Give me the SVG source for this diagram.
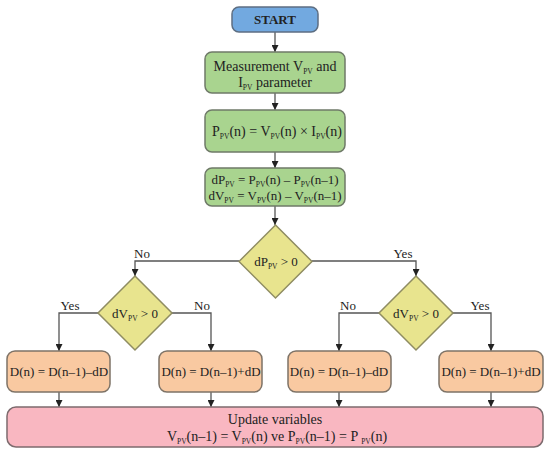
<svg xmlns="http://www.w3.org/2000/svg" width="550" height="454" viewBox="0 0 550 454">
<defs>
<marker id="arr" viewBox="0 0 10 10" refX="10" refY="5" markerWidth="7" markerHeight="7" markerUnits="userSpaceOnUse" orient="auto">
<path d="M0,0 L10,5 L0,10 z" fill="#222"/>
</marker>
<style>
text{font-family:"Liberation Serif","Times New Roman",serif;font-size:14px;fill:#222;text-anchor:middle}
.b{font-weight:bold;font-size:13px}
.m{font-size:13px}
.s{font-size:7.5px}
.lbl{font-size:13px}
.start{fill:#72a9e0;stroke:#5d6e82;stroke-width:1.5}
.green{fill:#a9d48f;stroke:#6f7a68;stroke-width:1.5}
.yel{fill:#e8e48e;stroke:#8f8c62;stroke-width:1.5}
.org{fill:#f9c9a1;stroke:#7e7367;stroke-width:1.5}
.pink{fill:#f9b7c1;stroke:#7d6b6e;stroke-width:1.5}
.c{fill:none;stroke:#555;stroke-width:1.3;marker-end:url(#arr)}
</style>
</defs>
<rect width="550" height="454" fill="#fff"/>
<g id="connectors">
<path class="c" d="M275,32 V52"/>
<path class="c" d="M275,93 V110"/>
<path class="c" d="M275,152 V168"/>
<path class="c" d="M275,206 V225"/>
<path class="c" d="M239,261 H135 V276"/>
<path class="c" d="M312,261 H416 V276"/>
<path class="c" d="M98,313 H59 V351"/>
<path class="c" d="M172,313 H211 V351"/>
<path class="c" d="M379,313 H339 V351"/>
<path class="c" d="M453,313 H491 V351"/>
<path class="c" d="M59,392 V407"/>
<path class="c" d="M211,392 V407"/>
<path class="c" d="M339,392 V407"/>
<path class="c" d="M491,392 V407"/>
<text class="lbl" x="142" y="258">No</text>
<text class="lbl" x="403" y="258">Yes</text>
<text class="lbl" x="70" y="310">Yes</text>
<text class="lbl" x="202" y="310">No</text>
<text class="lbl" x="348" y="310">No</text>
<text class="lbl" x="480" y="310">Yes</text>
</g>
<g id="start">
<rect class="start" x="232" y="7" width="86" height="25" rx="7"/>
<text class="b" x="275" y="24">START</text>
</g>
<g id="measure">
<rect class="green" x="205" y="52" width="140" height="41" rx="7"/>
<text x="275" y="71">Measurement V<tspan class="s" dy="3">PV</tspan><tspan dy="-3"> and</tspan></text>
<text x="275" y="87">I<tspan class="s" dy="3">PV</tspan><tspan dy="-3"> parameter</tspan></text>
</g>
<g id="power">
<rect class="green" x="205" y="110" width="140" height="42" rx="7"/>
<text x="277" y="136">P<tspan class="s" dy="3">PV</tspan><tspan dy="-3">(n) = V</tspan><tspan class="s" dy="3">PV</tspan><tspan dy="-3">(n) × I</tspan><tspan class="s" dy="3">PV</tspan><tspan dy="-3">(n)</tspan></text>
</g>
<g id="delta">
<rect class="green" x="205" y="168" width="140" height="38" rx="7"/>
<text class="m" x="275" y="184">dP<tspan class="s" dy="3">PV</tspan><tspan dy="-3"> = P</tspan><tspan class="s" dy="3">PV</tspan><tspan dy="-3">(n) – P</tspan><tspan class="s" dy="3">PV</tspan><tspan dy="-3">(n–1)</tspan></text>
<text class="m" x="275" y="200">dV<tspan class="s" dy="3">PV</tspan><tspan dy="-3"> = V</tspan><tspan class="s" dy="3">PV</tspan><tspan dy="-3">(n) – V</tspan><tspan class="s" dy="3">PV</tspan><tspan dy="-3">(n–1)</tspan></text>
</g>
<g id="dec-dp">
<polygon class="yel" points="275.5,225 312,261.5 275.5,298 239,261.5"/>
<text class="m" x="276" y="266">dP<tspan class="s" dy="3">PV</tspan><tspan dy="-3"> &gt; 0</tspan></text>
</g>
<g id="dec-dv-left">
<polygon class="yel" points="135,276 172,313 135,350 98,313"/>
<text class="m" x="135" y="318">dV<tspan class="s" dy="3">PV</tspan><tspan dy="-3"> &gt; 0</tspan></text>
</g>
<g id="dec-dv-right">
<polygon class="yel" points="416,276 453,313 416,350 379,313"/>
<text class="m" x="416" y="318">dV<tspan class="s" dy="3">PV</tspan><tspan dy="-3"> &gt; 0</tspan></text>
</g>
<g id="d1">
<rect class="org" x="7" y="351" width="103" height="41" rx="8"/>
<text class="m" x="59" y="376">D(n) = D(n–1)–dD</text>
</g>
<g id="d2">
<rect class="org" x="159" y="351" width="103" height="41" rx="8"/>
<text class="m" x="211" y="376">D(n) = D(n–1)+dD</text>
</g>
<g id="d3">
<rect class="org" x="288" y="351" width="103" height="41" rx="8"/>
<text class="m" x="339" y="376">D(n) = D(n–1)–dD</text>
</g>
<g id="d4">
<rect class="org" x="439" y="351" width="104" height="41" rx="8"/>
<text class="m" x="491" y="376">D(n) = D(n–1)+dD</text>
</g>
<g id="update">
<rect class="pink" x="7" y="407" width="536" height="40" rx="9"/>
<text x="275" y="424">Update variables</text>
<text x="277" y="441">V<tspan class="s" dy="3">PV</tspan><tspan dy="-3">(n–1) =  V</tspan><tspan class="s" dy="3">PV</tspan><tspan dy="-3">(n) ve P</tspan><tspan class="s" dy="3">PV</tspan><tspan dy="-3">(n–1) = P </tspan><tspan class="s" dy="3">PV</tspan><tspan dy="-3">(n)</tspan></text>
</g>
</svg>
